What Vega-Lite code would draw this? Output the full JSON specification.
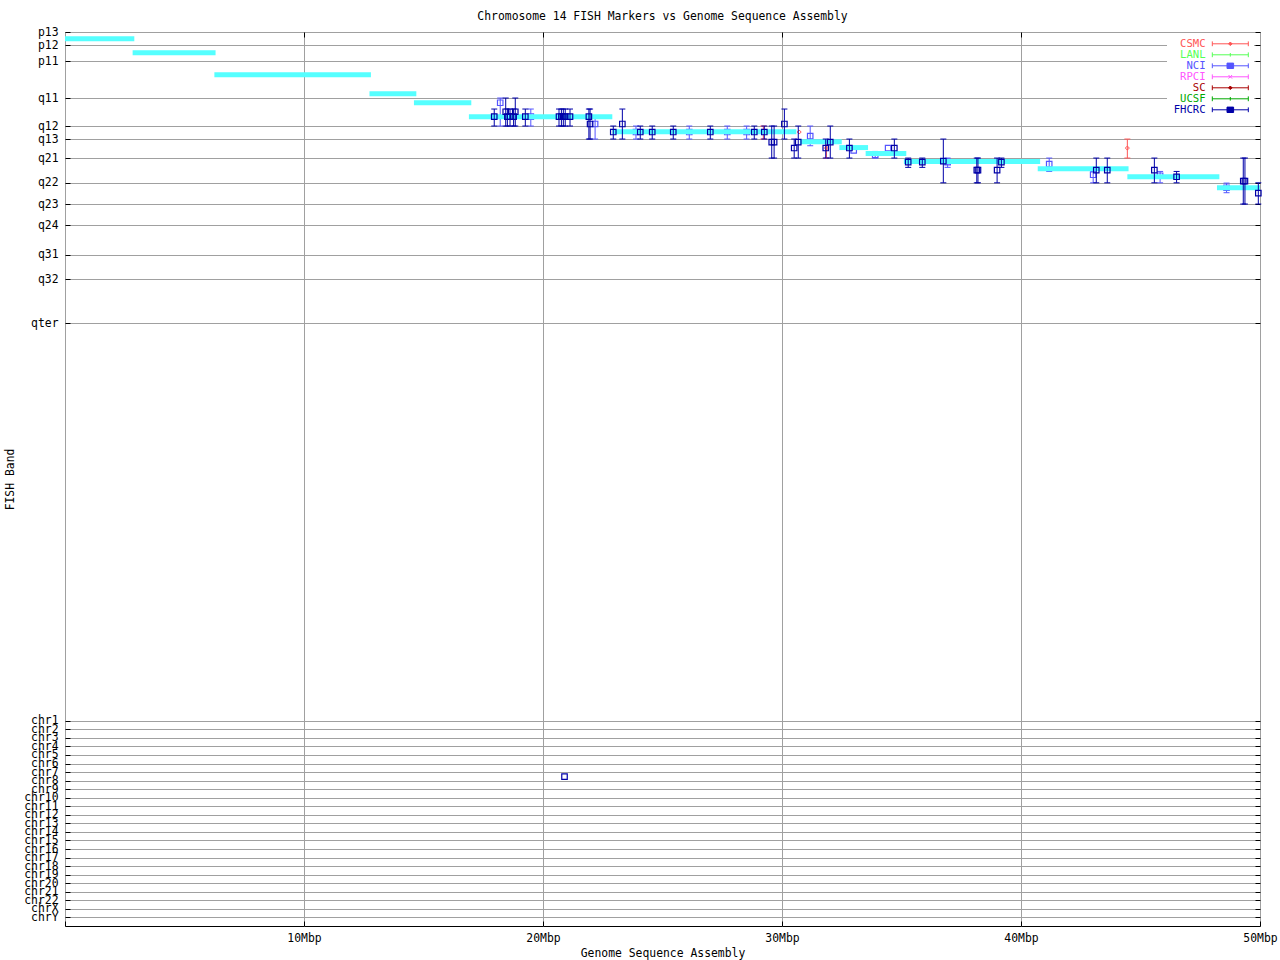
{
  "$schema": "https://vega.github.io/schema/vega-lite/v6.json",
  "width": 1195,
  "height": 894,
  "autosize": {"type": "none"},
  "padding": {"left": 65, "top": 32, "right": 20, "bottom": 34},
  "background": "white",
  "title": {"text": "Chromosome 14 FISH Markers vs Genome Sequence Assembly", "font": "DejaVu Sans Mono", "fontSize": 11.4, "fontWeight": "normal", "color": "black", "anchor": "middle", "baseline": "alphabetic", "frame": "group", "offset": -5},
  "config": {
    "font": "DejaVu Sans Mono",
    "view": {"stroke": "black", "strokeWidth": 1},
    "axis": {"labelFont": "DejaVu Sans Mono", "titleFont": "DejaVu Sans Mono", "labelFontSize": 11.4, "titleFontSize": 11.4, "titleFontWeight": "normal", "labelColor": "black", "titleColor": "black", "tickColor": "black", "gridColor": "#a0a0a0", "gridOpacity": 1, "domain": false, "labelFlush": false, "labelOverlap": false}
  },
  "datasets": {
    "segments": [
      {"start": 0, "end": 2.9, "pos": 2.3},
      {"start": 2.83, "end": 6.3, "pos": 7.1},
      {"start": 6.25, "end": 12.8, "pos": 14.7},
      {"start": 12.74, "end": 14.7, "pos": 21.2},
      {"start": 14.6, "end": 17.0, "pos": 24.3},
      {"start": 16.9, "end": 22.9, "pos": 29.1},
      {"start": 22.9, "end": 30.6, "pos": 34.3},
      {"start": 30.75, "end": 32.5, "pos": 37.7},
      {"start": 32.4, "end": 33.6, "pos": 39.7},
      {"start": 33.5, "end": 35.2, "pos": 41.7},
      {"start": 35.1, "end": 40.8, "pos": 44.5},
      {"start": 40.7, "end": 44.5, "pos": 47.0},
      {"start": 44.45, "end": 48.3, "pos": 49.7},
      {"start": 48.2, "end": 50.0, "pos": 53.5}
    ],
    "markers": [
      {"inst": "FHCRC", "mbp": 17.96, "pos": 29.1, "lo": 26.46, "hi": 32.3},
      {"inst": "FHCRC", "mbp": 18.44, "pos": 27.39, "lo": 22.68, "hi": 32.3},
      {"inst": "FHCRC", "mbp": 18.51, "pos": 29.1, "lo": 26.46, "hi": 32.3},
      {"inst": "FHCRC", "mbp": 18.62, "pos": 29.1, "lo": 26.46, "hi": 32.3},
      {"inst": "FHCRC", "mbp": 18.77, "pos": 29.1, "lo": 26.46, "hi": 32.3},
      {"inst": "FHCRC", "mbp": 18.84, "pos": 27.39, "lo": 22.68, "hi": 32.3},
      {"inst": "FHCRC", "mbp": 19.26, "pos": 29.1, "lo": 26.46, "hi": 32.3},
      {"inst": "FHCRC", "mbp": 20.67, "pos": 29.1, "lo": 26.46, "hi": 32.3},
      {"inst": "FHCRC", "mbp": 20.77, "pos": 29.1, "lo": 26.46, "hi": 32.3},
      {"inst": "FHCRC", "mbp": 20.85, "pos": 29.1, "lo": 26.46, "hi": 32.3},
      {"inst": "FHCRC", "mbp": 20.93, "pos": 29.1, "lo": 26.46, "hi": 32.3},
      {"inst": "FHCRC", "mbp": 21.13, "pos": 29.1, "lo": 26.46, "hi": 32.3},
      {"inst": "FHCRC", "mbp": 21.92, "pos": 29.1, "lo": 26.46, "hi": 36.77},
      {"inst": "FHCRC", "mbp": 21.97, "pos": 31.6, "lo": 26.46, "hi": 36.77},
      {"inst": "FHCRC", "mbp": 22.94, "pos": 34.36, "lo": 32.3, "hi": 36.77},
      {"inst": "FHCRC", "mbp": 23.32, "pos": 31.6, "lo": 26.46, "hi": 36.77},
      {"inst": "FHCRC", "mbp": 24.07, "pos": 34.36, "lo": 32.3, "hi": 36.77},
      {"inst": "FHCRC", "mbp": 24.57, "pos": 34.36, "lo": 32.3, "hi": 36.77},
      {"inst": "FHCRC", "mbp": 25.45, "pos": 34.36, "lo": 32.3, "hi": 36.77},
      {"inst": "FHCRC", "mbp": 27.0, "pos": 34.36, "lo": 32.3, "hi": 36.77},
      {"inst": "FHCRC", "mbp": 28.84, "pos": 34.36, "lo": 32.3, "hi": 36.77},
      {"inst": "FHCRC", "mbp": 29.26, "pos": 34.36, "lo": 32.3, "hi": 36.77},
      {"inst": "FHCRC", "mbp": 29.57, "pos": 37.8, "lo": 32.3, "hi": 43.3},
      {"inst": "FHCRC", "mbp": 29.67, "pos": 37.8, "lo": 32.3, "hi": 43.3},
      {"inst": "FHCRC", "mbp": 30.1, "pos": 31.6, "lo": 26.46, "hi": 36.77},
      {"inst": "FHCRC", "mbp": 30.51, "pos": 39.86, "lo": 36.77, "hi": 43.3},
      {"inst": "FHCRC", "mbp": 30.68, "pos": 37.8, "lo": 32.3, "hi": 43.3},
      {"inst": "FHCRC", "mbp": 31.83, "pos": 39.86, "lo": 36.77, "hi": 43.3},
      {"inst": "FHCRC", "mbp": 32.02, "pos": 37.8, "lo": 32.3, "hi": 43.3},
      {"inst": "FHCRC", "mbp": 32.82, "pos": 39.86, "lo": 36.77, "hi": 43.3},
      {"inst": "FHCRC", "mbp": 34.7, "pos": 39.86, "lo": 36.77, "hi": 43.3},
      {"inst": "FHCRC", "mbp": 35.28, "pos": 44.67, "lo": 43.3, "hi": 46.5},
      {"inst": "FHCRC", "mbp": 35.87, "pos": 44.67, "lo": 43.3, "hi": 46.5},
      {"inst": "FHCRC", "mbp": 36.75, "pos": 44.33, "lo": 36.77, "hi": 51.8},
      {"inst": "FHCRC", "mbp": 38.15, "pos": 47.42, "lo": 43.3, "hi": 51.8},
      {"inst": "FHCRC", "mbp": 38.2, "pos": 47.42, "lo": 43.3, "hi": 51.8},
      {"inst": "FHCRC", "mbp": 39.0, "pos": 47.42, "lo": 43.3, "hi": 51.8},
      {"inst": "FHCRC", "mbp": 39.18, "pos": 44.67, "lo": 43.3, "hi": 46.5},
      {"inst": "FHCRC", "mbp": 43.15, "pos": 47.42, "lo": 43.3, "hi": 51.8},
      {"inst": "FHCRC", "mbp": 43.61, "pos": 47.42, "lo": 43.3, "hi": 51.8},
      {"inst": "FHCRC", "mbp": 45.58, "pos": 47.42, "lo": 43.3, "hi": 51.8},
      {"inst": "FHCRC", "mbp": 46.51, "pos": 49.73, "lo": 47.9, "hi": 51.8},
      {"inst": "FHCRC", "mbp": 49.3, "pos": 51.2, "lo": 43.3, "hi": 59.1},
      {"inst": "FHCRC", "mbp": 49.37, "pos": 51.2, "lo": 43.3, "hi": 59.1},
      {"inst": "FHCRC", "mbp": 49.93, "pos": 55.33, "lo": 51.8, "hi": 59.1},
      {"inst": "FHCRC", "mbp": 20.9, "pos": 255.8, "lo": null, "hi": null},
      {"inst": "NCI", "mbp": 18.21, "pos": 24.3, "lo": 22.68, "hi": 32.3},
      {"inst": "NCI", "mbp": 19.49, "pos": 29.1, "lo": 26.46, "hi": 32.3},
      {"inst": "NCI", "mbp": 22.18, "pos": 31.6, "lo": 29.1, "hi": 36.77},
      {"inst": "NCI", "mbp": 23.89, "pos": 34.36, "lo": 32.3, "hi": 36.77},
      {"inst": "NCI", "mbp": 26.12, "pos": 34.36, "lo": 32.3, "hi": 36.77},
      {"inst": "NCI", "mbp": 27.71, "pos": 34.36, "lo": 32.3, "hi": 36.77},
      {"inst": "NCI", "mbp": 28.52, "pos": 34.36, "lo": 32.3, "hi": 36.77},
      {"inst": "NCI", "mbp": 31.18, "pos": 35.74, "lo": 32.3, "hi": 39.07},
      {"inst": "NCI", "mbp": 33.0, "pos": 40.69, "lo": null, "hi": null},
      {"inst": "NCI", "mbp": 33.9, "pos": 42.2, "lo": 41.03, "hi": 43.3},
      {"inst": "NCI", "mbp": 34.44, "pos": 39.86, "lo": null, "hi": null},
      {"inst": "NCI", "mbp": 36.93, "pos": 44.67, "lo": 43.3, "hi": 46.5},
      {"inst": "NCI", "mbp": 41.18, "pos": 45.36, "lo": 43.3, "hi": 47.9},
      {"inst": "NCI", "mbp": 43.02, "pos": 49.04, "lo": 47.9, "hi": 51.8},
      {"inst": "NCI", "mbp": 45.82, "pos": 49.38, "lo": 47.9, "hi": 51.8},
      {"inst": "NCI", "mbp": 48.6, "pos": 53.5, "lo": 51.9, "hi": 55.2},
      {"inst": "CSMC", "mbp": 29.22, "pos": 34.36, "lo": 32.3, "hi": 36.77},
      {"inst": "CSMC", "mbp": 30.72, "pos": 34.36, "lo": null, "hi": null},
      {"inst": "CSMC", "mbp": 31.86, "pos": 39.86, "lo": 37.8, "hi": 43.3},
      {"inst": "CSMC", "mbp": 44.45, "pos": 39.86, "lo": 36.77, "hi": 43.3}
    ]
  },
  "resolve": {"axis": {"x": "independent", "y": "independent"}},
  "layer": [
    {
      "data": {"name": "markers"},
      "transform": [{"filter": "false"}],
      "mark": {"type": "point", "filled": false, "size": 36, "strokeWidth": 1, "opacity": 1},
      "encoding": {
        "color": {"field": "inst", "type": "nominal",
                  "scale": {"domain": ["CSMC", "LANL", "NCI", "RPCI", "SC", "UCSF", "FHCRC"], "range": ["#ff5555", "#55ff55", "#5555ff", "#ff55ff", "#a80000", "#00a800", "#0000a8"]},
                  "legend": {"orient": "none", "legendX": 1102, "legendY": 3.5, "title": null, "labelFont": "DejaVu Sans Mono", "labelFontSize": 10.6, "labelAlign": "right", "labelOffset": -30, "labelColor": {"expr": "scale('color', datum.value)"}, "symbolSize": 36, "symbolOffset": 55, "symbolStrokeWidth": 1, "rowPadding": -1, "fillColor": "white", "padding": 3, "symbolFillColor": "transparent"}},
        "shape": {"field": "inst", "type": "nominal",
                  "scale": {"domain": ["CSMC", "LANL", "NCI", "RPCI", "SC", "UCSF", "FHCRC"],
                            "range": [
                              "M-6,0H6M-6,-0.8V0.8M6,-0.8V0.8M0,-0.6L0.6,0L0,0.6L-0.6,0Z",
                              "M-6,0H6M-6,-0.8V0.8M6,-0.8V0.8M0,-0.6V0.6",
                              "M-6,0H6M-6,-0.8V0.8M6,-0.8V0.8M-1.1,-0.9H1.1V0.9H-1.1Z",
                              "M-6,0H6M-6,-0.8V0.8M6,-0.8V0.8M-0.6,-0.6L0.6,0.6M-0.6,0.6L0.6,-0.6",
                              "M-6,0H6M-6,-0.8V0.8M6,-0.8V0.8M0,-0.6L0.6,0L0,0.6L-0.6,0Z",
                              "M-6,0H6M-6,-0.8V0.8M6,-0.8V0.8M0,-0.6V0.6",
                              "M-6,0H6M-6,-0.8V0.8M6,-0.8V0.8M-1.1,-0.9H1.1V0.9H-1.1Z"
                            ]},
                  "legend": {"orient": "none", "legendX": 1102, "legendY": 3.5, "title": null, "labelFont": "DejaVu Sans Mono", "labelFontSize": 10.6, "labelAlign": "right", "labelOffset": -30, "labelColor": {"expr": "scale('color', datum.value)"}, "symbolSize": 36, "symbolOffset": 55, "symbolStrokeWidth": 1, "rowPadding": -1, "fillColor": "white", "padding": 3, "symbolFillColor": "transparent"}}
      }
    },
    {
      "data": {"name": "markers"},
      "transform": [{"filter": "datum.inst != 'FHCRC' && datum.lo != null"}],
      "mark": {"type": "rule", "strokeWidth": 1},
      "encoding": {
        "x": {"field": "mbp", "type": "quantitative",
              "scale": {"domain": [0, 50], "nice": false, "zero": false},
              "axis": {"orient": "bottom", "values": [0, 10, 20, 30, 40, 50], "labelExpr": "datum.value == 0 ? '' : datum.value + 'Mbp'", "grid": true, "tickSize": -5, "labelPadding": 11.5, "title": "Genome Sequence Assembly", "titlePadding": 4}},
        "y": {"field": "lo", "type": "quantitative",
              "scale": {"domain": [0, 307.1], "reverse": true, "nice": false, "zero": false},
              "axis": {"orient": "left", "values": [0, 4.47, 9.97, 22.68, 32.3, 36.77, 43.3, 51.8, 59.1, 66.3, 76.6, 84.9, 100, 236.6, 239.54, 242.47, 245.41, 248.35, 251.29, 254.22, 257.16, 260.1, 263.03, 265.97, 268.91, 271.84, 274.78, 277.72, 280.66, 283.59, 286.53, 289.47, 292.4, 295.34, 298.28, 301.21, 304.15],
                       "labelExpr": "['p13','p12','p11','q11','q12','q13','q21','q22','q23','q24','q31','q32','qter','chr1','chr2','chr3','chr4','chr5','chr6','chr7','chr8','chr9','chr10','chr11','chr12','chr13','chr14','chr15','chr16','chr17','chr18','chr19','chr20','chr21','chr22','chrX','chrY'][indexof([0, 4.47, 9.97, 22.68, 32.3, 36.77, 43.3, 51.8, 59.1, 66.3, 76.6, 84.9, 100, 236.6, 239.54, 242.47, 245.41, 248.35, 251.29, 254.22, 257.16, 260.1, 263.03, 265.97, 268.91, 271.84, 274.78, 277.72, 280.66, 283.59, 286.53, 289.47, 292.4, 295.34, 298.28, 301.21, 304.15], datum.value)]",
                       "grid": true, "tickSize": -5, "labelPadding": 12, "title": "FISH Band", "titlePadding": 8}},
        "y2": {"field": "hi"},
        "color": {"field": "inst", "type": "nominal", "legend": null}
      }
    },
    {
      "data": {"name": "markers"},
      "transform": [{"filter": "datum.inst != 'FHCRC' && datum.lo != null"}],
      "mark": {"type": "tick", "orient": "horizontal", "size": 6, "thickness": 1, "opacity": 1},
      "encoding": {
        "x": {"field": "mbp", "type": "quantitative", "axis": null},
        "y": {"field": "lo", "type": "quantitative", "axis": null},
        "color": {"field": "inst", "type": "nominal", "legend": null}
      }
    },
    {
      "data": {"name": "markers"},
      "transform": [{"filter": "datum.inst != 'FHCRC' && datum.hi != null"}],
      "mark": {"type": "tick", "orient": "horizontal", "size": 6, "thickness": 1, "opacity": 1},
      "encoding": {
        "x": {"field": "mbp", "type": "quantitative", "axis": null},
        "y": {"field": "hi", "type": "quantitative", "axis": null},
        "color": {"field": "inst", "type": "nominal", "legend": null}
      }
    },
    {
      "data": {"name": "markers"},
      "transform": [{"filter": "datum.inst == 'NCI'"}],
      "mark": {"type": "point", "shape": "square", "filled": false, "size": 30, "strokeWidth": 1.2, "opacity": 1},
      "encoding": {
        "x": {"field": "mbp", "type": "quantitative", "axis": null},
        "y": {"field": "pos", "type": "quantitative", "axis": null},
        "color": {"field": "inst", "type": "nominal", "legend": null}
      }
    },
    {
      "data": {"name": "markers"},
      "transform": [{"filter": "datum.inst == 'CSMC'"}],
      "mark": {"type": "point", "shape": "diamond", "filled": false, "size": 16, "strokeWidth": 1, "opacity": 1},
      "encoding": {
        "x": {"field": "mbp", "type": "quantitative", "axis": null},
        "y": {"field": "pos", "type": "quantitative", "axis": null},
        "color": {"field": "inst", "type": "nominal", "legend": null}
      }
    },
    {
      "data": {"name": "segments"},
      "mark": {"type": "rule", "strokeWidth": 5, "color": "#55ffff", "strokeCap": "butt"},
      "encoding": {
        "x": {"field": "start", "type": "quantitative",
              "axis": {"orient": "top", "values": [10, 20, 30, 40], "labels": false, "grid": false, "tickSize": -5, "title": null}},
        "x2": {"field": "end"},
        "y": {"field": "pos", "type": "quantitative",
              "axis": {"orient": "right", "values": [0, 4.47, 9.97, 22.68, 32.3, 36.77, 43.3, 51.8, 59.1, 66.3, 76.6, 84.9, 100, 236.6, 239.54, 242.47, 245.41, 248.35, 251.29, 254.22, 257.16, 260.1, 263.03, 265.97, 268.91, 271.84, 274.78, 277.72, 280.66, 283.59, 286.53, 289.47, 292.4, 295.34, 298.28, 301.21, 304.15], "labels": false, "grid": false, "tickSize": -5, "title": null}}
      }
    },
    {
      "data": {"name": "markers"},
      "transform": [{"filter": "datum.inst == 'FHCRC' && datum.lo != null"}],
      "mark": {"type": "rule", "strokeWidth": 1},
      "encoding": {
        "x": {"field": "mbp", "type": "quantitative", "axis": null},
        "y": {"field": "lo", "type": "quantitative", "axis": null},
        "y2": {"field": "hi"},
        "color": {"field": "inst", "type": "nominal", "legend": null}
      }
    },
    {
      "data": {"name": "markers"},
      "transform": [{"filter": "datum.inst == 'FHCRC' && datum.lo != null"}],
      "mark": {"type": "tick", "orient": "horizontal", "size": 6, "thickness": 1, "opacity": 1},
      "encoding": {
        "x": {"field": "mbp", "type": "quantitative", "axis": null},
        "y": {"field": "lo", "type": "quantitative", "axis": null},
        "color": {"field": "inst", "type": "nominal", "legend": null}
      }
    },
    {
      "data": {"name": "markers"},
      "transform": [{"filter": "datum.inst == 'FHCRC' && datum.hi != null"}],
      "mark": {"type": "tick", "orient": "horizontal", "size": 6, "thickness": 1, "opacity": 1},
      "encoding": {
        "x": {"field": "mbp", "type": "quantitative", "axis": null},
        "y": {"field": "hi", "type": "quantitative", "axis": null},
        "color": {"field": "inst", "type": "nominal", "legend": null}
      }
    },
    {
      "data": {"name": "markers"},
      "transform": [{"filter": "datum.inst == 'FHCRC'"}],
      "mark": {"type": "point", "shape": "square", "filled": false, "size": 30, "strokeWidth": 1.2, "opacity": 1},
      "encoding": {
        "x": {"field": "mbp", "type": "quantitative", "axis": null},
        "y": {"field": "pos", "type": "quantitative", "axis": null},
        "color": {"field": "inst", "type": "nominal", "legend": null}
      }
    }
  ]
}
